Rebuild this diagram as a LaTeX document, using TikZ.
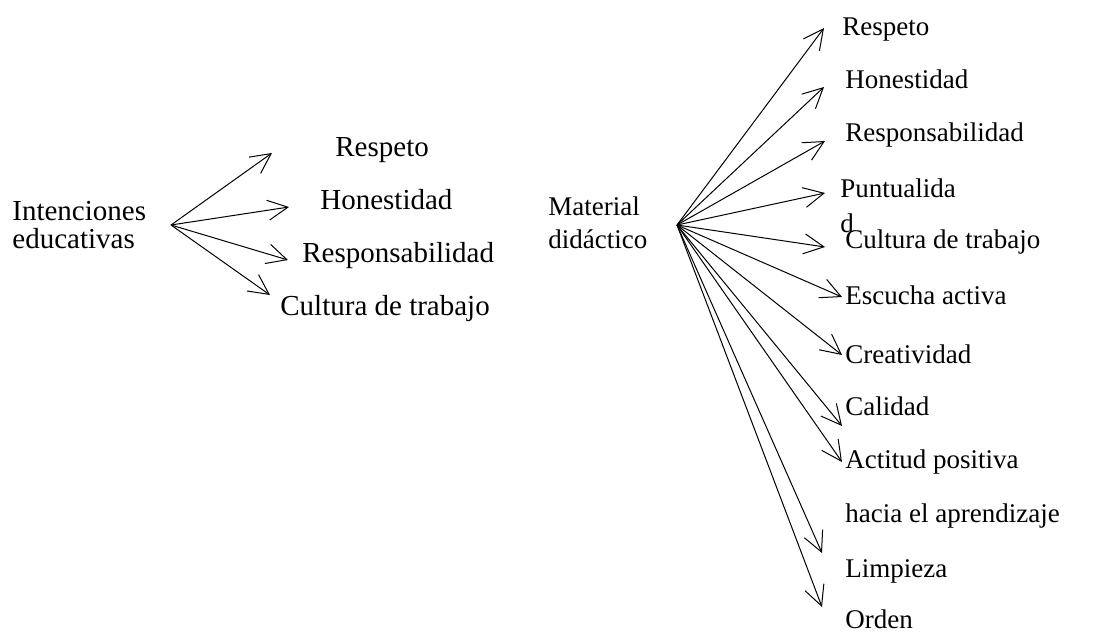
\documentclass[tikz,border=0pt]{standalone}
\usepackage{fontspec}
\setmainfont{Liberation Serif}
\usetikzlibrary{arrows.meta}

\begin{document}
\begin{tikzpicture}[
			x=0.5pt, y=-0.5pt
			,every node/.append style={font=\fontsize{14.5}{17.5}\selectfont, inner sep=0pt, anchor=base west, align=left}
			,sm/.style={font=\fontsize{13.5}{17.5}\selectfont}
			,arr/.style={-{Straight Barb[length=10pt,width=10pt]}, line width=0.5pt}
		]
			\useasboundingbox (0,0) rectangle (1103,632);
			% left group
			\node [font=\fontsize{14.5}{14}\selectfont] (I) at (12,248) {Intenciones\\educativas};
			\coordinate (i) at (171,225);
			\foreach \n/\txt/\bx/\by/\tx/\ty in {
				1/Respeto/335/156/272/153,
				2/Honestidad/320/209/289/207,
				3/Responsabilidad/302/262/288/260,
				4/Cultura de trabajo/280/315/270/295} {
				\node (L\n) at (\bx,\by) {\txt};
				\coordinate (l\n) at (\tx,\ty);
				\draw [arr] (i) -- (l\n);
			}
			% right group
			\node [font=\fontsize{13.5}{16.5}\selectfont] (M) at (548,248) {Material\\did\'actico};
			\coordinate (m) at (677,225);
			\foreach \n/\txt/\bx/\by/\tx/\ty in {
				1/Respeto/842/35/824/28,
				2/Honestidad/845/88/824/87,
				3/Responsabilidad/845/141/825/141,
				4/{Puntualida\\d}/840/232/825/193,
				5/Cultura de trabajo/845/248/825/247,
				6/Escucha activa/845/304/842/297,
				7/Creatividad/845/363/842/355,
				8/Calidad/845/415/842/426,
				9/Actitud positiva/845/468/842/462,
				10/Limpieza/845/577/822/553,
				11/Orden/845/628/822/607} {
				\node [sm] (R\n) at (\bx,\by) {\txt};
				\coordinate (r\n) at (\tx,\ty);
				\draw [arr] (m) -- (r\n);
			}
			\node [sm] (R12) at (845,522) {hacia el aprendizaje};
		\end{tikzpicture}
\end{document}
